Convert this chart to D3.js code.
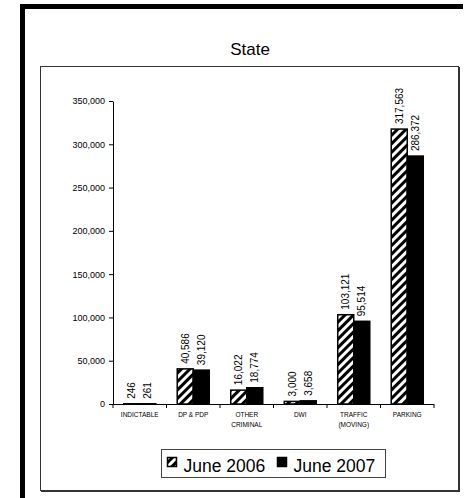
<!DOCTYPE html>
<html>
<head>
<meta charset="utf-8">
<script src="https://cdn.jsdelivr.net/npm/d3@7"></script>
<style>
  body { margin: 0; background: #fff; }
  text { font-family: "Liberation Sans", Arial, sans-serif; }
</style>
</head>
<body>
<div id="chart"></div>
<script>
// chart data
var categories = ["INDICTABLE", "DP & PDP", "OTHER CRIMINAL", "DWI", "TRAFFIC (MOVING)", "PARKING"];
var categoryLines = [["INDICTABLE"], ["DP & PDP"], ["OTHER", "CRIMINAL"], ["DWI"], ["TRAFFIC", "(MOVING)"], ["PARKING"]];
var seriesNames = ["June 2006", "June 2007"];
var june2006 = [246, 40586, 16022, 3000, 103121, 317563];
var june2007 = [261, 39120, 18774, 3658, 95514, 286372];
var yTicks = [0, 50000, 100000, 150000, 200000, 250000, 300000, 350000];

var width = 472, height = 498;
var svg = d3.select("#chart").append("svg")
  .attr("width", width)
  .attr("height", height);

// hatch pattern for the 2006 bars
var defs = svg.append("defs");
var pat = defs.append("pattern")
  .attr("id", "hatch")
  .attr("patternUnits", "userSpaceOnUse")
  .attr("width", 6)
  .attr("height", 6)
  .attr("patternTransform", "rotate(45)");
pat.append("rect").attr("width", 6).attr("height", 6).attr("fill", "#fff");
pat.append("rect").attr("x", 0).attr("width", 3).attr("height", 6).attr("fill", "#000");

//outer frame (thick, left + top only visible)
svg.append("rect").attr("x", 20).attr("y", 4).attr("width", 443).attr("height", 5).attr("fill", "#000");
svg.append("rect").attr("x", 20).attr("y", 4).attr("width", 5).attr("height", 494).attr("fill", "#000");

// inner chart box
svg.append("rect")
  .attr("x", 40.5).attr("y", 66.5)
  .attr("width", 418).attr("height", 424)
  .attr("fill", "none").attr("stroke", "#333").attr("stroke-width", 1);
svg.append("line").attr("x1", 41).attr("x2", 460).attr("y1", 491.5).attr("y2", 491.5).attr("stroke", "#333");
svg.append("line").attr("x1", 459.5).attr("x2", 459.5).attr("y1", 67).attr("y2", 492).attr("stroke", "#333");

svg.append("text")
  .attr("x", 250).attr("y", 55)
  .attr("text-anchor", "middle")
  .attr("font-size", 17)
  .text("State");

var margin = { left: 113, right: 434, top: 101, bottom: 404 };

var y = d3.scaleLinear().domain([0, 350000]).range([margin.bottom, margin.top]);
var x0 = d3.scaleBand().domain(categories).range([margin.left, margin.right]);
var x1 = d3.scaleBand().domain(seriesNames).range([0, x0.bandwidth()]).paddingOuter(0.67);

// y axis
var yAxis = d3.axisLeft(y)
  .tickValues(yTicks)
  .tickFormat(d3.format(","))
  .tickSizeInner(4)
  .tickSizeOuter(0);
var yg = svg.append("g").attr("transform", "translate(" + margin.left + ",0)").call(yAxis);
yg.selectAll("text").attr("font-size", 9).attr("x", -8).attr("fill", "#000");
yg.selectAll("line, path").attr("stroke", "#000");

// bars
var rows = categories.map(function (c, i) {
  return { cat: c, vals: [june2006[i], june2007[i]] };
});
var groups = svg.selectAll(".grp").data(rows).enter().append("g")
  .attr("class", "grp")
  .attr("transform", function (d) { return "translate(" + x0(d.cat) + ",0)"; });

groups.selectAll("rect").data(function (d) {
  return d.vals.map(function (v, j) { return { s: seriesNames[j], v: v }; });
}).enter().append("rect")
  .attr("x", function (d) { return x1(d.s); })
  .attr("y", function (d) { return y(d.v); })
  .attr("width", x1.bandwidth())
  .attr("height", function (d) { return y(0) - y(d.v); })
  .attr("fill", function (d) { return d.s == "June 2006" ? "url(#hatch)" : "#000"; })
  .attr("stroke", "#000")
  .attr("stroke-width", 1.5);

groups.selectAll(".val").data(function (d) {
  return d.vals.map(function (v, j) { return { s: seriesNames[j], v: v }; });
}).enter().append("text")
  .attr("class", "val")
  .attr("transform", function (d) {
    return "translate(" + (x1(d.s) + x1.bandwidth() / 2 + 3.5) + "," + (y(d.v) - 5) + ") rotate(-90)";
  })
  .attr("font-size", 10)
  .text(function (d) { return d3.format(",")(d.v); });

// x axis
svg.append("line")
  .attr("x1", margin.left).attr("x2", margin.right)
  .attr("y1", y(0) + 0.5).attr("y2", y(0) + 0.5)
  .attr("stroke", "#000");
var bounds = categories.map(function (c) { return x0(c); }).concat([margin.right]);
svg.selectAll(".xtick").data(bounds).enter().append("line")
  .attr("x1", function (d) { return d; }).attr("x2", function (d) { return d; })
  .attr("y1", y(0)).attr("y2", y(0) + 4)
  .attr("stroke", "#000");

var catText = svg.selectAll(".cat").data(categoryLines).enter().append("text")
  .attr("text-anchor", "middle")
  .attr("font-size", 6.5)
  .attr("x", function (d, i) { return x0(categories[i]) + x0.bandwidth() / 2; })
  .attr("y", 417);
catText.selectAll("tspan").data(function (d) { return d; }).enter().append("tspan")
  .attr("x", function () { return d3.select(this.parentNode).attr("x"); })
  .attr("dy", function (d, i) { return i == 0 ? 0 : 10; })
  .text(function (d) { return d; });

// legend
var lg = svg.append("g");
lg.append("rect")
  .attr("x", 161.5).attr("y", 449.5).attr("width", 224).attr("height", 28)
  .attr("fill", "#fff").attr("stroke", "#444");
var legX = [167.5, 277.5];
seriesNames.forEach(function (s, i) {
  lg.append("rect")
    .attr("x", legX[i]).attr("y", 457.5).attr("width", 9).attr("height", 9)
    .attr("fill", i == 0 ? "url(#hatch)" : "#000")
    .attr("stroke", "#000").attr("stroke-width", 1.5);
  lg.append("text")
    .attr("x", legX[i] + 16).attr("y", 471.5)
    .attr("font-size", 17.5)
    .text(s);
});
</script>
</body>
</html>
